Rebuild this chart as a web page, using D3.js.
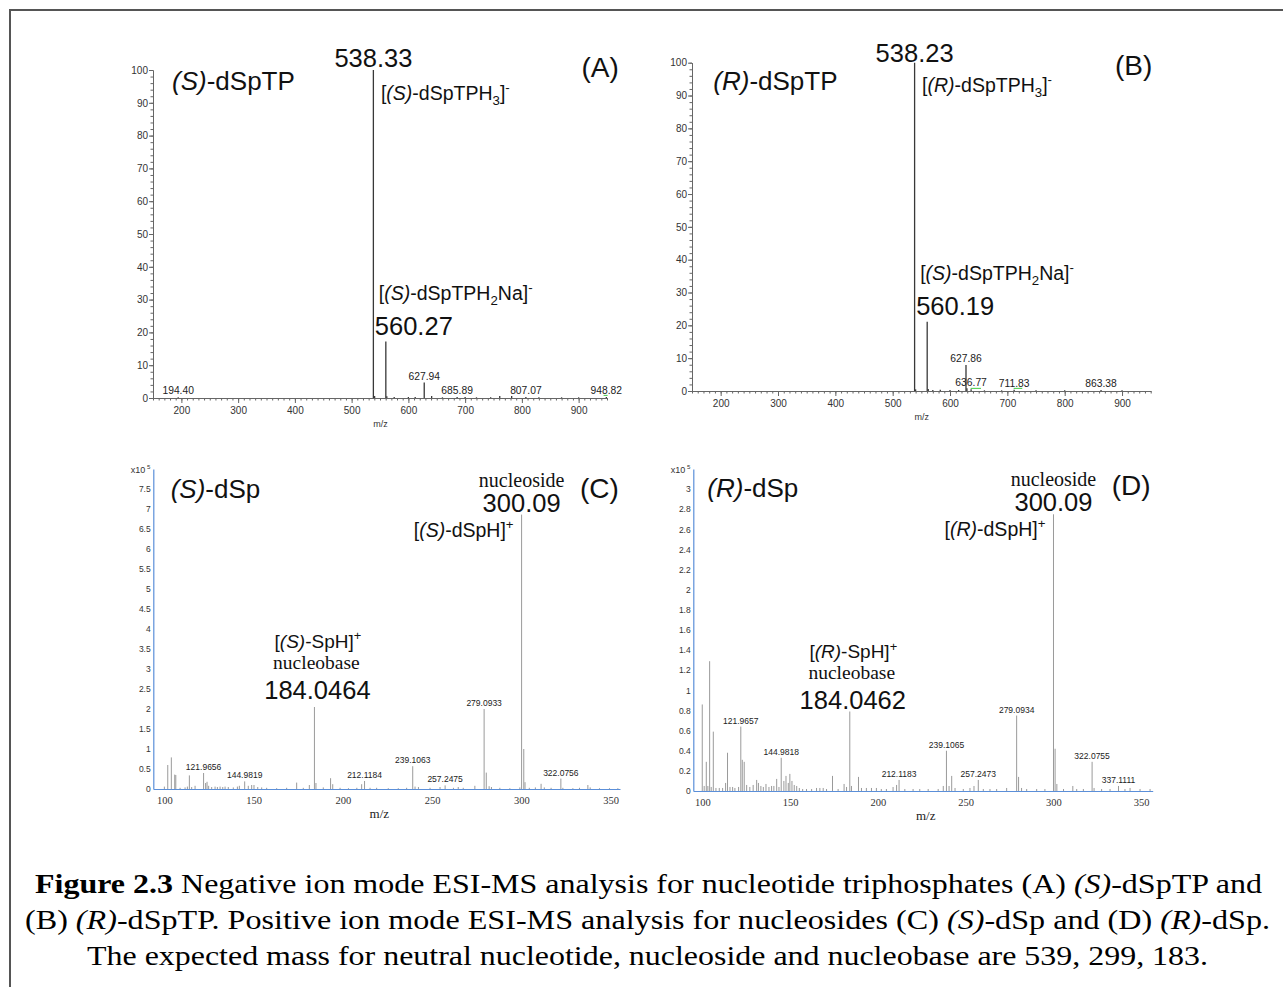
<!DOCTYPE html>
<html><head><meta charset="utf-8">
<script src="https://cdn.jsdelivr.net/npm/d3@7"></script>
<style>body{margin:0;background:#fff}svg{display:block}</style>
</head><body><svg id="c" width="1283" height="987"></svg>
<script>
// ================= DATA =================
// Panel A: (S)-dSpTP, negative ion ESI-MS (relative abundance, %)
const mzA  = [538.33, 560.27, 627.94, 194.40, 685.89, 807.07, 948.82, 540.5, 562.0, 575.0, 600.0, 612.0, 641.0, 660.0, 700.0, 720.0, 745.0, 761.0, 782.0, 830.0, 870.0, 900.0];
const intA = [100,    17.2,   4.7,    0.2,    0.3,    0.3,    0.3,    0.6,   0.5,   0.3,   0.3,   0.3,   0.6,   0.2,   0.3,   0.2,   0.2,   0.6,   0.6,   0.2,   0.2,   0.2];
const smallLabA = [194.40, 627.94, 685.89, 807.07, 948.82];
const greenA = [[944, 951]];

// Panel B: (R)-dSpTP
const mzB  = [538.23, 560.19, 627.86, 636.77, 711.83, 863.38, 540.0, 562.0, 570.0, 583.0, 600.0, 615.0, 629.5, 660.0, 690.0, 750.0, 800.0, 900.0];
const intB = [100,    21.1,   7.9,    0.5,    0.4,    0.3,    0.5,   0.6,   0.3,   0.4,   0.3,   0.3,   0.8,   0.2,   0.2,   0.2,   0.2,   0.2];
const smallLabB = [627.86, 636.77, 711.83, 863.38];
const greenB = [[636, 654], [711, 726]];

// Panel C: (S)-dSp, positive ion ESI-MS (intensity x10^5)
const mzC  = [300.09, 301.3, 302.0, 279.0933, 280.3, 281.9, 184.0464, 184.9, 239.1063, 322.0756, 121.9656, 144.9819, 212.1184, 257.2475,
  100.0, 101.9, 103.9, 105.8, 106.4, 108.8, 111.6, 112.9, 114.0, 115.3, 117.2, 123.1, 123.9, 124.8, 126.5, 128.4, 129.7, 131.2, 132.7, 134.0, 135.8, 138.6, 140.9, 142.0,
  147.0, 148.9, 150.2, 152.3, 154.5, 157.3, 162.9, 168.5, 174.1, 177.8, 181.2, 189.0, 193.1, 194.3, 198.4, 203.1, 207.8, 210.5, 215.2, 218.9, 225.4, 231.0, 235.7,
  240.4, 242.3, 248.8, 254.4, 261.9, 264.6, 267.4, 273.9, 283.2, 287.9, 293.5, 299.1, 304.4, 307.8, 311.0, 312.8, 316.6, 323.2, 328.8, 332.5, 337.2, 338.5, 343.7, 349.3, 354.0];
const intC = [6.86, 1.0, 0.17, 2.0, 0.41, 0.07, 2.05, 0.15, 0.57, 0.26, 0.40, 0.19, 0.20, 0.09,
  0.06, 0.60, 0.79, 0.36, 0.35, 0.03, 0.04, 0.06, 0.34, 0.05, 0.08, 0.15, 0.18, 0.08, 0.05, 0.06, 0.05, 0.06, 0.05, 0.06, 0.05, 0.04, 0.06, 0.08,
  0.08, 0.10, 0.10, 0.05, 0.04, 0.03, 0.02, 0.03, 0.16, 0.03, 0.10, 0.04, 0.27, 0.12, 0.03, 0.02, 0.03, 0.12, 0.03, 0.03, 0.02, 0.02, 0.03,
  0.06, 0.05, 0.03, 0.05, 0.03, 0.05, 0.03, 0.08, 0.05, 0.03, 0.02, 0.04, 0.03, 0.04, 0.13, 0.04, 0.03, 0.03, 0.02, 0.03, 0.10, 0.04, 0.02, 0.02, 0.02];
const smallLabC = [121.9656, 144.9819, 212.1184, 239.1063, 257.2475, 279.0933, 322.0756];

// Panel D: (R)-dSp
const mzD  = [300.09, 301.0, 302.0, 279.0934, 280.2, 281.9, 184.0462, 185.0, 239.1065, 240.6, 242.1, 322.0755, 337.1111, 257.2473, 212.1183, 210.7, 144.9818, 121.9657,
  100.0, 101.1, 102.3, 103.2, 104.2, 105.1, 106.3, 107.8, 109.7, 111.6, 113.3, 114.4, 115.8, 117.3, 118.6, 120.7, 122.8, 123.9, 125.3, 127.1, 129.0, 131.0, 132.0, 133.4,
  134.8, 136.3, 138.0, 139.5, 140.8, 142.4, 143.7, 146.5, 147.7, 149.0, 149.9, 151.1, 152.4, 153.8, 155.3, 157.2, 159.4, 162.3, 165.1, 167.0, 168.9, 170.8, 174.2,
  177.4, 180.8, 182.2, 189.0, 190.7, 193.5, 196.4, 199.2, 202.0, 204.9, 208.7, 215.4, 220.1, 223.9, 228.7, 234.4, 237.3, 244.0, 248.7, 252.5, 254.8, 260.1, 263.9,
  267.7, 273.4, 284.8, 290.5, 295.2, 305.8, 311.1, 313.3, 317.1, 323.2, 327.5, 332.3, 340.8, 343.7, 349.4, 355.1];
const intD = [2.75, 0.42, 0.07, 0.75, 0.14, 0.03, 0.79, 0.05, 0.40, 0.05, 0.15, 0.29, 0.05, 0.11, 0.11, 0.06, 0.33, 0.64,
  0.86, 0.05, 0.29, 0.05, 1.29, 0.04, 0.59, 0.03, 0.03, 0.03, 0.08, 0.38, 0.04, 0.04, 0.03, 0.04, 0.31, 0.29, 0.06, 0.04, 0.06, 0.11, 0.08, 0.05,
  0.04, 0.07, 0.04, 0.05, 0.05, 0.12, 0.04, 0.10, 0.15, 0.08, 0.17, 0.10, 0.06, 0.05, 0.03, 0.02, 0.02, 0.02, 0.03, 0.03, 0.03, 0.02, 0.15,
  0.02, 0.07, 0.04, 0.14, 0.03, 0.03, 0.03, 0.03, 0.02, 0.02, 0.04, 0.02, 0.02, 0.02, 0.02, 0.02, 0.05, 0.03, 0.02, 0.03, 0.05, 0.02, 0.02,
  0.02, 0.03, 0.02, 0.02, 0.02, 0.02, 0.05, 0.02, 0.02, 0.03, 0.02, 0.02, 0.02, 0.03, 0.02, 0.02];
const smallLabD = [121.9657, 144.9818, 212.1183, 239.1065, 257.2473, 279.0934, 322.0755, 337.1111];

// Tick values
const ticksAB_y = d3.range(0, 101, 10);
const ticksAB_x = d3.range(200, 901, 100);
const ticksC_y = d3.range(0, 16).map(i => i / 2);
const ticksD_y = d3.range(0, 16).map(i => i / 5);
const ticksCD_x = d3.range(100, 351, 50);

// ================= DRAWING =================
const svg = d3.select('#c');
const SANS = "'Liberation Sans', Arial, Helvetica, sans-serif";
const SERIF = "'Liberation Serif', 'Times New Roman', Times, serif";

function rich(g, x, y, parts, o) {
  const t = g.append('text').attr('x', x).attr('y', y)
    .style('font-family', o.family || SANS).attr('font-size', o.size)
    .attr('fill', o.fill || '#111').attr('text-anchor', o.anchor || 'start');
  if (o.len) t.attr('textLength', o.len).attr('lengthAdjust', 'spacingAndGlyphs');
  let shift = 0;
  parts.forEach(p => {
    const [s, st] = Array.isArray(p) ? p : [p, ''];
    const ts = t.append('tspan').text(s);
    let target = 0;
    if (st === 'sub') target = o.size * 0.28;
    if (st === 'sup') target = -o.size * 0.4;
    if (target !== shift) { ts.attr('dy', target - shift); shift = target; }
    if (st === 'sub' || st === 'sup') ts.attr('font-size', o.size * 0.68);
    if (st === 'i') ts.attr('font-style', 'italic');
    if (st === 'b') ts.attr('font-weight', 'bold');
  });
  return t;
}

function drawPeaks(g, x, y, mz, inten, color, w) {
  g.append('g').selectAll('line').data(mz.map((m, i) => ({ m, v: inten[i] }))).join('line')
    .attr('x1', d => x(d.m)).attr('x2', d => x(d.m))
    .attr('y1', y(0)).attr('y2', d => y(d.v))
    .attr('stroke', color).attr('stroke-width', w);
}

function smallLabels(g, x, y, mz, inten, labs, digits, size, family) {
  g.append('g').selectAll('text').data(labs).join('text')
    .attr('x', d => x(d))
    .attr('y', d => y(inten[mz.indexOf(d)]) - 3)
    .attr('text-anchor', 'middle').style('font-family', family).attr('font-size', size)
    .attr('fill', '#222').text(d => d.toFixed(digits));
}

// Outer frame
svg.append('rect').attr('x', 10).attr('y', 10).attr('width', 1290).attr('height', 1000)
  .attr('fill', 'none').attr('stroke', '#555').attr('stroke-width', 2);

// ---------- Panels A & B ----------
function panelAB(cfg) {
  const g = svg.append('g');
  const x = d3.scaleLinear([150, 950], cfg.xr);
  const y = d3.scaleLinear([0, 100], cfg.yr);
  const ax = '#666';
  const gy = g.append('g').attr('transform', `translate(${cfg.xr[0]},0)`)
    .call(d3.axisLeft(y).tickValues(ticksAB_y).tickSize(4).tickPadding(1).tickSizeOuter(0));
  gy.selectAll('text').style('font-family', SANS).attr('font-size', 10).attr('fill', '#333');
  const gym = g.append('g').attr('transform', `translate(${cfg.xr[0]},0)`)
    .call(d3.axisLeft(y).tickValues(d3.range(0, 101, 2)).tickSize(2.5).tickFormat('').tickSizeOuter(0));
  const gx = g.append('g').attr('transform', `translate(0,${cfg.yr[0]})`)
    .call(d3.axisBottom(x).tickValues(ticksAB_x).tickSize(5).tickPadding(4).tickSizeOuter(0));
  gx.selectAll('text').style('font-family', SANS).attr('font-size', 10).attr('fill', '#333');
  const gxm = g.append('g').attr('transform', `translate(0,${cfg.yr[0]})`)
    .call(d3.axisBottom(x).tickValues(d3.range(150, 951, 10)).tickSize(2.5).tickFormat('').tickSizeOuter(0));
  [gy, gym, gx, gxm].forEach(a => { a.selectAll('path,line').attr('stroke', ax).attr('stroke-width', 1); });
  g.append('text').attr('x', cfg.mzx).attr('y', cfg.yr[0] + 29).attr('text-anchor', 'middle')
    .style('font-family', SANS).attr('font-size', 9).attr('fill', '#333').text('m/z');
  drawPeaks(g, x, y, cfg.mz, cfg.int, '#383838', 1.3);
  g.append('g').selectAll('line').data(cfg.green).join('line')
    .attr('x1', d => x(d[0])).attr('x2', d => x(d[1])).attr('y1', y(0.8)).attr('y2', y(0.8))
    .attr('stroke', '#4c4').attr('stroke-width', 1);
  smallLabels(g, x, y, cfg.mz, cfg.int, cfg.labs, 2, 10.3, SANS);
  const s = cfg.iso;
  rich(g, cfg.titleX, 90, [['(' + s + ')', 'i'], '-dSpTP'], { size: 26 });
  rich(g, cfg.letterX, cfg.letterY, [cfg.letter], { size: 28 });
  rich(g, x(cfg.mz[0]), y(100) - cfg.topOff, [cfg.mz[0].toFixed(2)], { size: 25.5, anchor: 'middle' });
  rich(g, x(cfg.mz[0]) + 7.5, cfg.f1y, ['[', ['(' + s + ')', 'i'], '-dSpTPH', ['3', 'sub'], ']', ['-', 'sup']], { size: 19.5 });
  rich(g, x(cfg.mz[1]) - 11, y(cfg.int[1]) - 6.7, [cfg.mz[1].toFixed(2)], { size: 25.5 });
  rich(g, x(cfg.mz[1]) - 7, y(cfg.int[1]) - 41.7, ['[', ['(S)', 'i'], '-dSpTPH', ['2', 'sub'], 'Na]', ['-', 'sup']], { size: 19.5 });
}

panelAB({ xr: [153, 607], yr: [398, 70], mz: mzA, int: intA, labs: smallLabA, iso: 'S', green: greenA,
  titleX: 172, letter: '(A)', letterX: 581.5, letterY: 76.5, topOff: 3.3, f1y: 100, mzx: 380.5 });
panelAB({ xr: [692, 1150.7], yr: [391, 62.7], mz: mzB, int: intB, labs: smallLabB, iso: 'R', green: greenB,
  titleX: 713.3, letter: '(B)', letterX: 1115, letterY: 75, topOff: 1, f1y: 91.7, mzx: 921.7 });

// ---------- Panels C & D ----------
function panelCD(cfg) {
  const g = svg.append('g');
  const x = d3.scaleLinear(cfg.xd, cfg.xr);
  const y = d3.scaleLinear(cfg.yd, cfg.yr);
  const blue = '#5b8fd9';
  const gy = g.append('g').attr('transform', `translate(${cfg.xr[0]},0)`)
    .call(d3.axisLeft(y).tickValues(cfg.yt).tickSize(0).tickPadding(2.6).tickSizeOuter(0)
      .tickFormat(d => String(+d.toFixed(1))));
  gy.selectAll('text').style('font-family', SANS).attr('font-size', 8.5).attr('fill', '#333');
  const gx = g.append('g').attr('transform', `translate(0,${cfg.yr[0]})`)
    .call(d3.axisBottom(x).tickValues(ticksCD_x).tickSize(0).tickPadding(8).tickSizeOuter(0));
  gx.selectAll('text').style('font-family', SERIF).attr('font-size', 10.5).attr('fill', '#333');
  [gy, gx].forEach(a => a.select('.domain').attr('stroke', blue).attr('stroke-width', 1.2));
  g.append('text').attr('x', cfg.mzx).attr('y', cfg.yr[0] + 28.5).attr('text-anchor', 'middle')
    .style('font-family', SERIF).attr('font-size', 13).attr('fill', '#222').text('m/z');
  rich(g, cfg.xr[0] - 22.5, cfg.yr[1] + 4, ['x10', [' 5', 'sup']], { size: 9, fill: '#333' });
  drawPeaks(g, x, y, cfg.mz, cfg.int, '#9a9a9a', 1);
  smallLabels(g, x, y, cfg.mz, cfg.int, cfg.labs, 4, 8.5, SANS);
  const s = cfg.iso;
  rich(g, cfg.titleX, cfg.titleY, [['(' + s + ')', 'i'], '-dSp'], { size: 26 });
  rich(g, cfg.letterX, cfg.letterY, [cfg.letter], { size: 28 });
  const xn = x(cfg.mz[0]), yn = y(cfg.int[0]);
  rich(g, xn, yn - 3, ['300.09'], { size: 25.5, anchor: 'middle' });
  rich(g, xn, yn - 28, ['nucleoside'], { size: 20, anchor: 'middle', family: SERIF });
  rich(g, xn - 8, yn + 22, ['[', ['(' + s + ')', 'i'], '-dSpH]', ['+', 'sup']], { size: 19.5, anchor: 'end' });
  const xb = x(cfg.mz[cfg.bi]) + 3, yb = y(cfg.int[cfg.bi]);
  rich(g, xb, yb - cfg.bOff, [cfg.mz[cfg.bi].toFixed(4)], { size: 25.5, anchor: 'middle' });
  rich(g, xb - 1, yb - cfg.bOff - 30, ['nucleobase'], { size: 19.5, anchor: 'middle', family: SERIF });
  rich(g, xb + 0.5, yb - cfg.bOff - 51, ['[', ['(' + s + ')', 'i'], '-SpH]', ['+', 'sup']], { size: 19, anchor: 'middle' });
}

panelCD({ xd: [93.8, 355.2], xr: [153.3, 620], yd: [0, 8], yr: [789, 469], yt: ticksC_y,
  mz: mzC, int: intC, labs: smallLabC, iso: 'S', bi: 6, bOff: 8,
  titleX: 170.7, titleY: 498.3, letter: '(C)', letterX: 580, letterY: 498.3, mzx: 379.3 });
panelCD({ xd: [94.9, 356.6], xr: [693.3, 1152.7], yd: [0, 3.2], yr: [791, 469], yt: ticksD_y,
  mz: mzD, int: intD, labs: smallLabD, iso: 'R', bi: 6, bOff: 2.2,
  titleX: 707.3, titleY: 496.7, letter: '(D)', letterX: 1111.7, letterY: 495, mzx: 925.7 });

// ---------- Caption ----------
const cap = svg.append('g');
rich(cap, 35, 893, [['Figure 2.3', 'b'], ' Negative ion mode ESI-MS analysis for nucleotide triphosphates (A) ', ['(S)', 'i'], '-dSpTP and'],
  { size: 27.5, family: SERIF, len: 1227, fill: '#000' });
rich(cap, 25, 929.3, ['(B) ', ['(R)', 'i'], '-dSpTP. Positive ion mode ESI-MS analysis for nucleosides (C) ', ['(S)', 'i'], '-dSp and (D) ', ['(R)', 'i'], '-dSp.'],
  { size: 27.5, family: SERIF, len: 1245, fill: '#000' });
rich(cap, 87, 965, ['The expected mass for neutral nucleotide, nucleoside and nucleobase are 539, 299, 183.'],
  { size: 27.5, family: SERIF, len: 1121, fill: '#000' });
</script></body></html>
